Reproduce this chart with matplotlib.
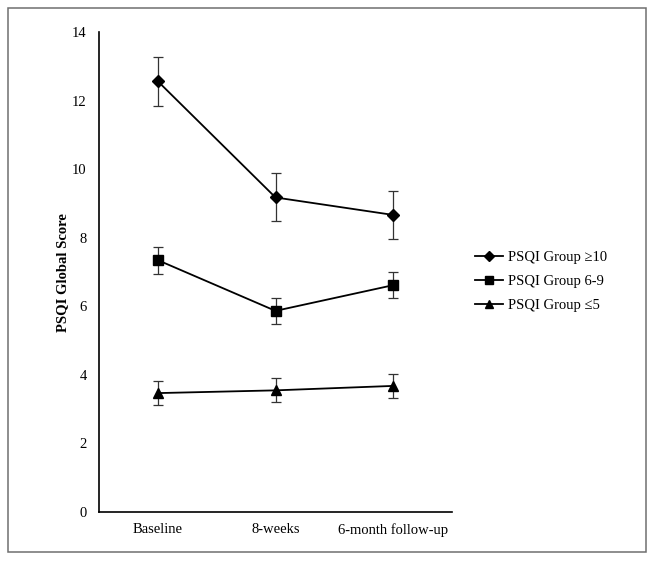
import numpy as np
import matplotlib
matplotlib.use("Agg")
import matplotlib.pyplot as plt
from matplotlib.patches import Rectangle

plt.rcParams['font.family'] = ['Liberation Serif', 'DejaVu Serif']

# data
timepoints = ["Baseline", "8-weeks", "6-month follow-up"]
g10_mean = [12.57, 9.18, 8.67]
g10_err = [0.71, 0.70, 0.71]
g69_mean = [7.35, 5.87, 6.62]
g69_err = [0.39, 0.38, 0.38]
g5_mean = [3.47, 3.55, 3.68]
g5_err = [0.35, 0.35, 0.35]
labels = ["PSQI Group \u226510", "PSQI Group 6-9", "PSQI Group \u22645"]
markers = ["D", "s", "^"]
msizes = [6.5, 7, 7]

fig = plt.figure(figsize=(6.56, 5.63), dpi=100)
ax = fig.add_axes([0.151, 0.0906, 0.538, 0.852])

x = np.arange(len(timepoints))
for m, e, lab, mk, ms in zip([g10_mean, g69_mean, g5_mean], [g10_err, g69_err, g5_err],
                             labels, markers, msizes):
    ax.errorbar(x, m, yerr=e, color='black', lw=1.3, marker=mk, ms=ms,
                ecolor='#333333', elinewidth=0.9, capsize=3.5, capthick=0.9,
                label=lab)

ax.set_xlim(-0.5, 2.5)
ax.set_ylim(0, 14)
ax.set_yticks(range(0, 15, 2))
ax.set_xticks(x)
ax.set_xticklabels(timepoints)
ax.tick_params(axis='both', length=0, labelsize=10.5, pad=8)
ax.tick_params(axis='y', pad=9)
ax.spines['top'].set_visible(False)
ax.spines['right'].set_visible(False)
ax.spines['left'].set_linewidth(1.2)
ax.spines['bottom'].set_linewidth(1.2)
ax.set_ylabel("PSQI Global Score", fontsize=10.5, fontweight='bold', labelpad=2)

handles, labs = ax.get_legend_handles_labels()
handles = [h[0] for h in handles]
fig.legend(handles, labs, loc='center left', bbox_to_anchor=(0.704, 0.5),
           frameon=False, fontsize=10.5, handlelength=1.95, handletextpad=0.3,
           labelspacing=0.75, markerscale=0.8)

fig.patches.append(Rectangle((8 / 656, 1 - 552 / 563), 638 / 656, 544 / 563,
                             transform=fig.transFigure, fill=False,
                             edgecolor='#6f6f6f', lw=1.1))

fig.savefig("out.png", dpi=100)
